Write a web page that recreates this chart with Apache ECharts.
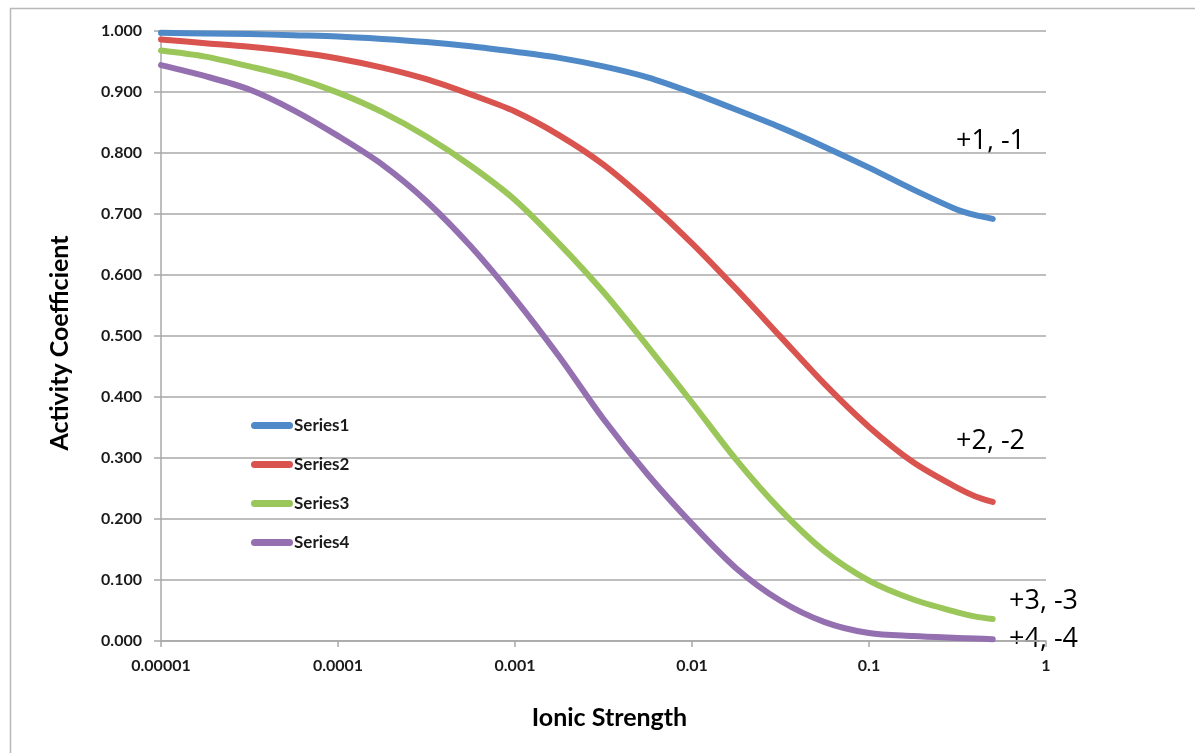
<!DOCTYPE html>
<html>
<head>
<meta charset="utf-8">
<script src="https://cdn.jsdelivr.net/npm/echarts@6/dist/echarts.min.js"></script>
<style>
html,body{margin:0;padding:0;background:#fff;}
#chart{width:1195px;height:753px;}
</style>
</head>
<body>
<div id="chart"></div>
<script>
// ---- data ----
const ionicStrength = [0.00001, 0.0000178, 0.0000316, 0.0000562, 0.0001, 0.000178, 0.000316, 0.000562,
                       0.001, 0.00178, 0.00316, 0.00562, 0.01, 0.0178, 0.0316, 0.0562, 0.1, 0.178, 0.316, 0.4, 0.5];
const series1 = [0.997, 0.996, 0.995, 0.993, 0.991, 0.987, 0.982, 0.975, 0.966, 0.956, 0.942, 0.924,
                 0.899, 0.871, 0.842, 0.810, 0.776, 0.740, 0.707, 0.698, 0.692];
const series2 = [0.986, 0.980, 0.974, 0.966, 0.955, 0.940, 0.921, 0.896, 0.868, 0.829, 0.781, 0.720,
                 0.652, 0.577, 0.499, 0.421, 0.351, 0.293, 0.251, 0.237, 0.228];
const series3 = [0.968, 0.958, 0.942, 0.924, 0.899, 0.867, 0.827, 0.779, 0.723, 0.651, 0.572, 0.483,
                 0.391, 0.297, 0.215, 0.147, 0.099, 0.068, 0.047, 0.040, 0.036];
const series4 = [0.944, 0.926, 0.904, 0.870, 0.828, 0.781, 0.721, 0.647, 0.561, 0.466, 0.364, 0.273,
                 0.192, 0.119, 0.066, 0.031, 0.013, 0.008, 0.005, 0.004, 0.003];
const seriesNames = ['Series1', 'Series2', 'Series3', 'Series4'];
const chargeLabels = ['+1, -1', '+2, -2', '+3, -3', '+4, -4'];
const xTickLabels = ['0.00001', '0.0001', '0.001', '0.01', '0.1', '1'];
const xAxisTitle = 'Ionic Strength';
const yAxisTitle = 'Activity Coefficient';

const colors = ['#4F89C8', '#D9534F', '#9BC75A', '#9470B0'];
const allSeries = [series1, series2, series3, series4];

const chart = echarts.init(document.getElementById('chart'));
const tickFont = {fontFamily: 'Lato', fontWeight: 'bold', fontSize: 16, color: '#1a1a1a'};
const gridColor = '#a8a8a8';
const noteStyle = {fontFamily: 'Open Sans', fontSize: 27, fill: '#000'};

const option = {
  animation: false,
  backgroundColor: '#fff',
  grid: {left: 161, right: 149, top: 31, bottom: 112, containLabel: false},
  legend: {
    orient: 'vertical',
    left: 246,
    top: 412,
    itemWidth: 42,
    itemHeight: 7,
    itemGap: 22,
    icon: 'path://M3.5,0 L38.5,0 A3.5,3.5 0 0 1 38.5,7 L3.5,7 A3.5,3.5 0 0 1 3.5,0 Z',
    textStyle: {fontFamily: 'Lato', fontWeight: 'bold', fontSize: 17, color: '#1a1a1a', padding: [0,0,0,-4]},
    data: seriesNames
  },
  xAxis: {
    type: 'log',
    logBase: 10,
    min: 0.00001,
    max: 1,
    name: xAxisTitle,
    nameLocation: 'middle',
    nameGap: 64,
    nameTextStyle: {fontFamily: 'Lato', fontWeight: 'bold', fontSize: 25, color: '#000', padding: [0,0,0,12]},
    axisLine: {lineStyle: {color: gridColor, width: 1.5}},
    axisTick: {show: true, length: 6, lineStyle: {color: gridColor, width: 1.5}},
    minorTick: {show: false},
    splitLine: {show: false},
    axisLabel: Object.assign({}, tickFont, {
      margin: 17,
      formatter: function (v) {
        const i = Math.round(Math.log10(v)) + 5;
        return xTickLabels[i] !== undefined ? xTickLabels[i] : '';
      }
    })
  },
  yAxis: {
    type: 'value',
    min: 0,
    max: 1,
    interval: 0.1,
    name: yAxisTitle,
    nameLocation: 'middle',
    nameGap: 89,
    nameTextStyle: {fontFamily: 'Lato', fontWeight: 'bold', fontSize: 25, color: '#000', padding: [0,14,0,0]},
    axisLine: {show: true, lineStyle: {color: gridColor, width: 1.5}},
    axisTick: {show: true, length: 7, lineStyle: {color: gridColor, width: 1.5}},
    splitLine: {show: true, lineStyle: {color: gridColor, width: 1.5}},
    axisLabel: Object.assign({}, tickFont, {
      margin: 19,
      formatter: function (v) { return v.toFixed(3); }
    })
  },
  series: allSeries.map(function (vals, k) {
    return {
      name: seriesNames[k],
      type: 'line',
      smooth: 0.3,
      symbol: 'none',
      color: colors[k],
      lineStyle: {width: 6, color: colors[k], cap: 'round', join: 'round'},
      data: ionicStrength.map(function (x, i) { return [x, vals[i]]; })
    };
  }),
  graphic: [
    {type: 'rect', left: 8, top: 6, shape: {width: 1400, height: 1000}, style: {fill: 'none', stroke: '#b8b8b8', lineWidth: 1.5}, silent: true, z: -1},
    {type: 'text', left: 956, top: 128, style: Object.assign({text: chargeLabels[0]}, noteStyle)},
    {type: 'text', left: 956, top: 428, style: Object.assign({text: chargeLabels[1]}, noteStyle)},
    {type: 'text', left: 1009, top: 588, style: Object.assign({text: chargeLabels[2]}, noteStyle)},
    {type: 'text', left: 1009, top: 626, style: Object.assign({text: chargeLabels[3]}, noteStyle)}
  ]
};
chart.setOption(option);
</script>
</body>
</html>
